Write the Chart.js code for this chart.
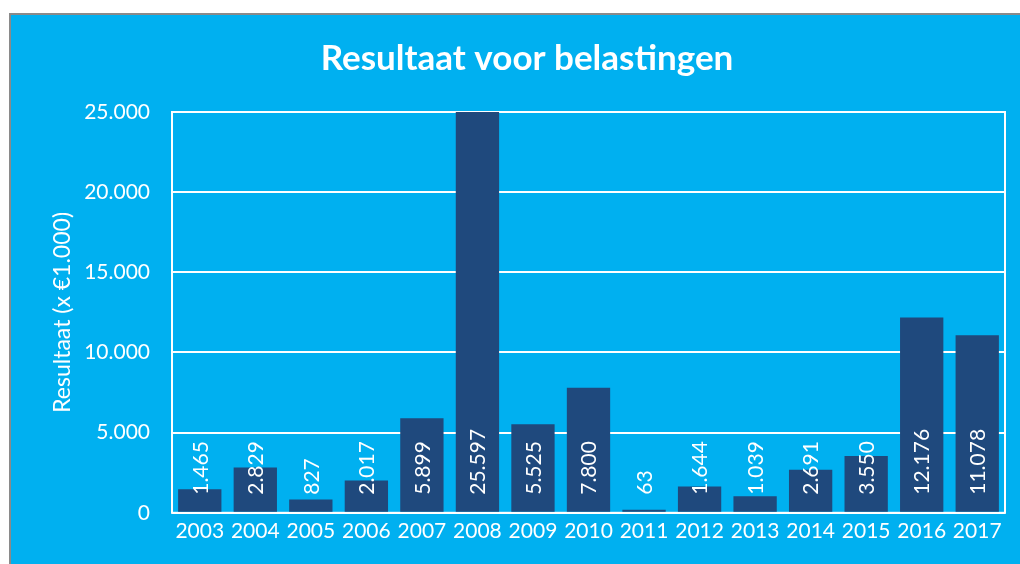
<!DOCTYPE html>
<html>
<head>
<meta charset="utf-8">
<script src="https://cdn.jsdelivr.net/npm/chart.js@4"></script>
<style>
  body { margin: 0; background: #ffffff; }
  #frame {
    position: absolute; left: 9px; top: 13px;
    width: 1009px; height: 549px;
    border-left: 2px solid #8a8a8a; border-top: 2px solid #8a8a8a;
    background: #00B0F0;
  }
</style>
</head>
<body>
<div id="frame"><canvas id="myChart" width="1009" height="549"></canvas></div>
<script>
// Data
const years = ["2003", "2004", "2005", "2006", "2007", "2008", "2009", "2010",
               "2011", "2012", "2013", "2014", "2015", "2016", "2017"];
const resultaat = [1465, 2829, 827, 2017, 5899, 25597, 5525, 7800,
                   63, 1644, 1039, 2691, 3550, 12176, 11078];
const yTicks = [0, 5000, 10000, 15000, 20000, 25000];

const fontFamily = "Lato, 'Open Sans', sans-serif";

// Dutch thousands separator: 25597 -> 25.597
function nl(v) {
    return String(v).replace(/\B(?=(\d{3})+(?!\d))/g, ".");
}

// white box round the plot area
const plotBox = {
    id: "plotBox",
    beforeDatasetsDraw(chart) {
        const a = chart.chartArea;
        const c = chart.ctx;
        c.save();
        c.strokeStyle = "#ffffff";
        c.lineWidth = 2;
        c.strokeRect(a.left, a.top, a.right - a.left, a.bottom - a.top);
        c.restore();
    }
};

// rotated value labels at the foot of each bar
const barLabels = {
    id: "barLabels",
    afterDatasetsDraw(chart) {
        const c = chart.ctx;
        const meta = chart.getDatasetMeta(0);
        c.save();
        c.fillStyle = "#ffffff";
        c.font = "21px " + fontFamily;
        c.textAlign = "left";
        c.textBaseline = "middle";
        meta.data.forEach((bar, i) => {
            c.save();
            c.translate(bar.x, bar.base - 17);
            c.rotate(-Math.PI / 2);
            c.fillText(nl(resultaat[i]), 0, 1);
            c.restore();
        });
        c.restore();
    }
};

const ctx = document.getElementById("myChart");
new Chart(ctx, {
    type: "bar",
    data: {
        labels: years,
        datasets: [
            {
                label: "Resultaat",
                data: resultaat,
                backgroundColor: "#1F497D",
                barPercentage: 0.78,
                categoryPercentage: 1.0,
                minBarLength: 3,
            },
        ],
    },
    options: {
        responsive: false,
        animation: false,
        layout: { padding: { left: 38, right: 15, top: 0, bottom: 22 } },
        plugins: {
            legend: { display: false },
            tooltip: { enabled: false },
            title: {
                display: true,
                text: "Resultaat voor belastingen",
                color: "#ffffff",
                font: { family: fontFamily, size: 35, weight: "bold" },
                padding: { top: 23, bottom: 32 },
            },
        },
        scales: {
            x: {
                grid: { display: false },
                border: { display: false },
                ticks: {
                    color: "#ffffff",
                    font: { family: fontFamily, size: 21 },
                    padding: -2,
                    maxRotation: 0,
                    autoSkip: false,
                },
            },
            y: {
                min: 0,
                max: 25000,
                afterBuildTicks(scale) {
                    scale.ticks = yTicks.map(v => ({ value: v }));
                },
                afterFit(scale) {
                    scale.width = 123;
                },
                grid: { color: "#ffffff", lineWidth: 2, drawTicks: false },
                border: { display: false },
                ticks: {
                    color: "#ffffff",
                    font: { family: fontFamily, size: 21 },
                    padding: 22,
                    callback: v => nl(v),
                },
                title: {
                    display: true,
                    text: "Resultaat (x €1.000)",
                    color: "#ffffff",
                    font: { family: fontFamily, size: 23 },
                    padding: { top: 0, bottom: 0 },
                },
            },
        },
    },
    plugins: [plotBox, barLabels],
});
</script>
</body>
</html>
